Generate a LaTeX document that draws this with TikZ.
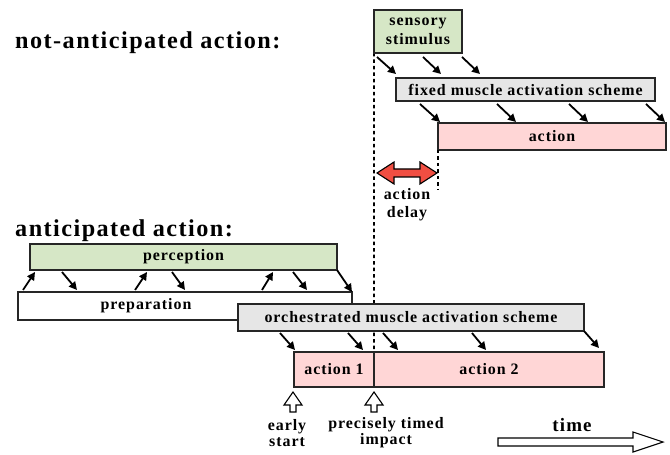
\documentclass[tikz,border=0pt]{standalone}
\usepackage{fontspec}
\setmainfont{Liberation Serif}[LetterSpace=6]
\usetikzlibrary{arrows.meta,calc}
\pgfdeclarelayer{background}
\pgfsetlayers{background,main}
\definecolor{pgreen}{RGB}{214,231,198}
\definecolor{pgray}{RGB}{230,230,230}
\definecolor{ppink}{RGB}{255,214,214}
\definecolor{pred}{RGB}{240,78,66}
\tikzset{
  box/.style={draw=black!85, line width=1.1bp, inner sep=0pt, outer sep=0pt, anchor=north west,
    font=\fontsize{16}{18}\selectfont\bfseries, align=center},
  sarr/.style={line width=1.8bp, -{Triangle[length=8bp,width=8bp]}},
  dline/.style={line width=1.9bp, dash pattern=on 3.5bp off 3bp},
  lbl/.style={font=\fontsize{16}{16}\selectfont\bfseries, align=center, inner sep=0pt},
  ttl/.style={font=\fontsize{24.3}{26}\selectfont\bfseries, inner sep=0pt, anchor=base west},
  hollow/.style={draw=black, line width=1.1bp, fill=white}
}
\begin{document}
\begin{tikzpicture}[x=1bp,y=-1bp]
\useasboundingbox (0,0) rectangle (670,455);
% titles
\node[ttl] (t1) at (15,49) {not-anticipated action:};
\node[ttl] (t2) at (15,237) {anticipated action:};
% not-anticipated boxes
\node[box, fill=pgreen, minimum width=88bp, minimum height=43bp, font=\fontsize{16}{19}\selectfont\bfseries] (stim) at (374,10) {sensory\\stimulus};
\node[box, fill=pgray, minimum width=259bp, minimum height=23bp] (fixed) at (396,78) {fixed muscle activation scheme};
\node[box, fill=ppink, minimum width=228bp, minimum height=27bp] (act) at (438,123) {action};
% anticipated boxes
\node[box, fill=pgreen, minimum width=307bp, minimum height=26bp] (perc) at (30,244) {perception};
\node[box, fill=white, minimum width=334bp, minimum height=28bp] (prep) at (18,292) {\kern-39bp\hbox to 0pt{\hss preparation\hss}\kern39bp};
\node[box, fill=pgray, minimum width=346bp, minimum height=27bp] (orch) at (238,304) {orchestrated muscle activation scheme};
\node[box, fill=ppink, minimum width=80bp, minimum height=35bp] (a1) at (294,352) {action 1};
\node[box, fill=ppink, minimum width=230bp, minimum height=35bp] (a2) at (374,352) {action 2};
% dashed lines
\begin{pgfonlayer}{background}
\draw[dline] (stim.south west) -- (a1.north east);
\end{pgfonlayer}
\coordinate (dend) at (438,190);
\draw[dline] (act.south west) -- (dend);
% stimulus -> fixed
\draw[sarr] ([shift={(3,4)}]stim.south west) -- ++(19,17);
\draw[sarr] ([shift={(49,4)}]stim.south west) -- ++(18,17);
\draw[sarr] ([shift={(88,4)}]stim.south west) -- ++(18,17);
% fixed -> action
\draw[sarr] ([shift={(24,3)}]fixed.south west) -- ++(20,18);
\draw[sarr] ([shift={(101,3)}]fixed.south west) -- ++(19,18);
\draw[sarr] ([shift={(173,3)}]fixed.south west) -- ++(19,18);
\draw[sarr] ([shift={(250,3)}]fixed.south west) -- ++(19,18);
% perception <-> preparation
\draw[sarr] ([shift={(5,-2)}]prep.north west) -- ++(12,-18);
\draw[sarr] ([shift={(117,-2)}]prep.north west) -- ++(12,-18);
\draw[sarr] ([shift={(244,-2)}]prep.north west) -- ++(11,-18);
\draw[sarr] ([shift={(32,2)}]perc.south west) -- ++(15,18);
\draw[sarr] ([shift={(142,2)}]perc.south west) -- ++(13,18);
\draw[sarr] ([shift={(263,2)}]perc.south west) -- ++(14,18);
\draw[sarr] (perc.south east) -- (prep.north east);
% orchestrated -> actions
\draw[sarr] ([shift={(42,2)}]orch.south west) -- ++(15,17);
\draw[sarr] ([shift={(110,2)}]orch.south west) -- ++(15,17);
\draw[sarr] ([shift={(145,2)}]orch.south west) -- ++(15,17);
\draw[sarr] ([shift={(234,2)}]orch.south west) -- ++(14,17);
\draw[sarr] (orch.south east) -- ++(15,17);
% red double arrow
\draw[line width=1.1bp, fill=pred] (377,173) -- (394,162) -- (394,169) -- (420,169) -- (420,162) -- (437,173)
  -- (420,184) -- (420,177) -- (394,177) -- (394,184) -- cycle;
\node[lbl, font=\fontsize{16}{18}\selectfont\bfseries] (delay) at (407,205) {action\\delay};
% hollow up arrows
\foreach \c in {293,374}{
  \draw[hollow] (\c,392) -- (\c+9,405) -- (\c+3,405) -- (\c+3,412) -- (\c-3,412) -- (\c-3,405) -- (\c-9,405) -- cycle;
}
\node[lbl] (early) at (287,433) {early\\start};
\node[lbl] (impact) at (386,433) {precisely timed\\impact};
% time arrow
\node[lbl, font=\fontsize{19}{20}\selectfont\bfseries] (time) at (572,425) {time};
\draw[hollow] (498,438) -- (633,438) -- (633,432) -- (663,442) -- (633,452) -- (633,446) -- (498,446) -- cycle;
\end{tikzpicture}
\end{document}
